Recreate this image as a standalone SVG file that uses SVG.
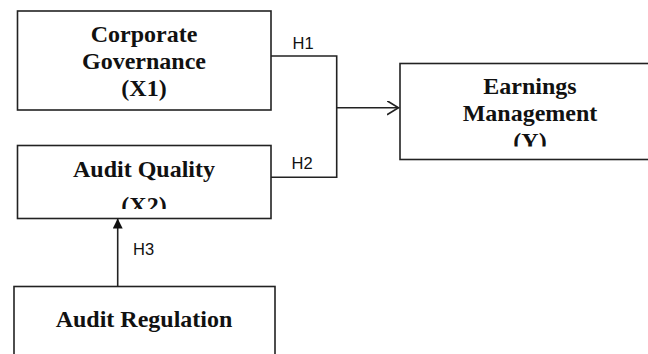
<svg xmlns="http://www.w3.org/2000/svg" width="648" height="354" viewBox="0 0 648 354">
<style>
.box{fill:#fff;stroke:#222;stroke-width:1.6}
.t{font-family:"Liberation Serif","Times New Roman",serif;font-weight:bold;font-size:24px;fill:#111;text-anchor:middle}
.lbl{font-family:"Liberation Sans",Arial,sans-serif;font-size:16.5px;fill:#111}
.ln{fill:none;stroke:#222;stroke-width:1.6}
</style>
<defs>
<marker id="open" markerUnits="userSpaceOnUse" markerWidth="14" markerHeight="16" refX="12" refY="7" orient="auto">
<path d="M0.5,0 L12,7 L0.5,14" fill="none" stroke="#222" stroke-width="1.6"/>
</marker>
<marker id="filled" markerUnits="userSpaceOnUse" markerWidth="12" markerHeight="12" refX="10" refY="5" orient="auto">
<path d="M0,0 L10,5 L0,10 Z" fill="#111"/>
</marker>
<clipPath id="clipX2"><rect x="0" y="0" width="648" height="209"/></clipPath>
<clipPath id="clipY"><rect x="0" y="0" width="648" height="146.5"/></clipPath>
</defs>
<rect width="648" height="354" fill="#fff"/>
<g id="node-x1">
<rect class="box" x="17.5" y="11" width="253.5" height="99"/>
<text class="t" x="144" y="42">Corporate</text>
<text class="t" x="144" y="69">Governance</text>
<text class="t" x="144" y="96">(X1)</text>
</g>
<g id="node-x2">
<rect class="box" x="17.5" y="145.5" width="253.5" height="73"/>
<text class="t" x="144" y="177">Audit Quality</text>
<text class="t" x="144" y="213" clip-path="url(#clipX2)">(X2)</text>
</g>
<g id="node-reg">
<rect class="box" x="14" y="286.5" width="261" height="80"/>
<text class="t" x="144" y="327">Audit Regulation</text>
</g>
<g id="node-y">
<rect class="box" x="400" y="63.5" width="260" height="96"/>
<text class="t" x="530" y="93.5">Earnings</text>
<text class="t" x="530" y="120.5">Management</text>
<text class="t" x="530" y="149" clip-path="url(#clipY)">(Y)</text>
</g>
<g id="connectors">
<path class="ln" d="M271,56 H336.7 V177.3 H271"/>
<path class="ln" d="M336.7,107.7 H398.5" marker-end="url(#open)"/>
<path class="ln" d="M117.7,286.5 V218.5" marker-end="url(#filled)"/>
<text class="lbl" x="292.5" y="49">H1</text>
<text class="lbl" x="291.5" y="169">H2</text>
<text class="lbl" x="133" y="255">H3</text>
</g>
</svg>
